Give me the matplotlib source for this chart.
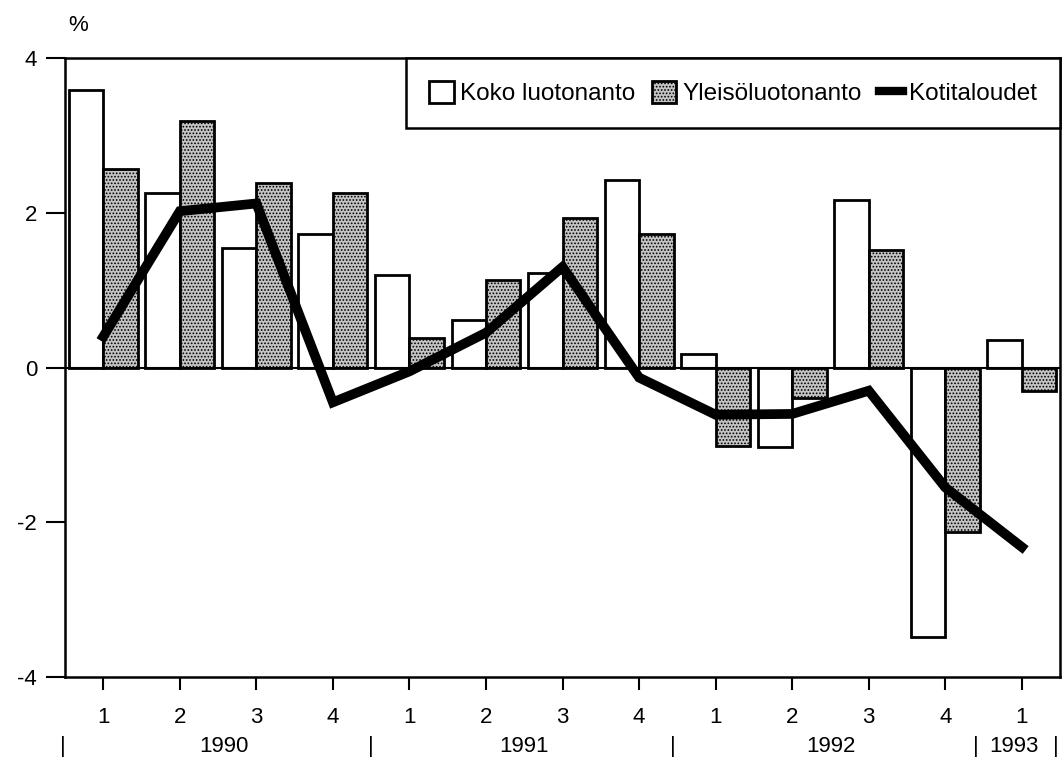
import matplotlib.pyplot as plt
import matplotlib.transforms as mtransforms
from matplotlib.lines import Line2D
import numpy as np

plt.rcParams['font.family'] = ['Liberation Sans', 'DejaVu Sans']
plt.rcParams['hatch.linewidth'] = 0.8

quarters = ['1', '2', '3', '4', '1', '2', '3', '4', '1', '2', '3', '4', '1']
koko = [3.58, 2.25, 1.55, 1.73, 1.20, 0.62, 1.22, 2.42, 0.18, -1.03, 2.17, -3.48, 0.35]
yleiso = [2.57, 3.18, 2.38, 2.26, 0.38, 1.13, 1.93, 1.72, -1.02, -0.40, 1.52, -2.13, -0.30]
kotitaloudet = [0.40, 2.02, 2.12, -0.45, -0.05, 0.45, 1.30, -0.13, -0.61, -0.60, -0.30, -1.55, -2.32]
years = ['1990', '1991', '1992', '1993']
year_pos = [1.57, 5.5, 9.5, 11.9]
year_seps = [-0.53, 3.49, 7.44, 11.4, 12.44]

x = np.arange(len(quarters))
w = 0.45

fig = plt.figure(figsize=(10.62, 7.59), dpi=100)
ax = fig.add_axes([0.0612, 0.108, 0.937, 0.8156])

b1 = ax.bar(x - w / 2, koko, width=w, facecolor='white', edgecolor='black',
            linewidth=2, label='Koko luotonanto', zorder=2)
b2 = ax.bar(x + w / 2, yleiso, width=w, facecolor='#c4c4c4', edgecolor='black',
            hatch='.....', linewidth=2, label='Yleisöluotonanto', zorder=2)
ax.axhline(0, color='black', linewidth=1.5, zorder=3)
ax.plot(x, kotitaloudet, color='black', linewidth=7, solid_capstyle='projecting',
        solid_joinstyle='miter', zorder=4)

ax.set_xlim(-0.5, 12.5)
ax.set_ylim(-4, 4)
ax.set_yticks([-4, -2, 0, 2, 4])
ax.set_yticklabels(['-4', '-2', '0', '2', '4'])
ax.set_xticks(x)
ax.set_xticklabels(quarters)
ax.tick_params(axis='y', direction='out', length=14, width=1.5, labelsize=16, pad=6)
ax.tick_params(axis='x', direction='out', length=9.5, width=1.5, labelsize=16, pad=12)
for s in ax.spines.values():
    s.set_linewidth(1.8)

trans = mtransforms.blended_transform_factory(ax.transData, ax.transAxes)
for yr, p in zip(years, year_pos):
    ax.text(p, -0.113, yr, transform=trans, ha='center', va='center', fontsize=16)
for p in year_seps:
    ax.text(p, -0.113, '|', transform=trans, ha='center', va='center', fontsize=16)

ax.text(0.003, 1.053, '%', transform=ax.transAxes, ha='left', va='center', fontsize=16)

line_handle = Line2D([], [], color='black', linewidth=6)
leg = ax.legend([b1, b2, line_handle], ['Koko luotonanto', 'Yleisöluotonanto', 'Kotitaloudet'],
                loc='upper right', bbox_to_anchor=(1.0, 1.0), borderaxespad=0,
                ncol=3, fancybox=False, framealpha=1, edgecolor='black',
                fontsize=17.5, handlelength=1.0, handleheight=1.0, handletextpad=0.25,
                columnspacing=0.7, borderpad=0.95)
leg.get_frame().set_linewidth(1.8)

fig.savefig('out.png', dpi=100)
